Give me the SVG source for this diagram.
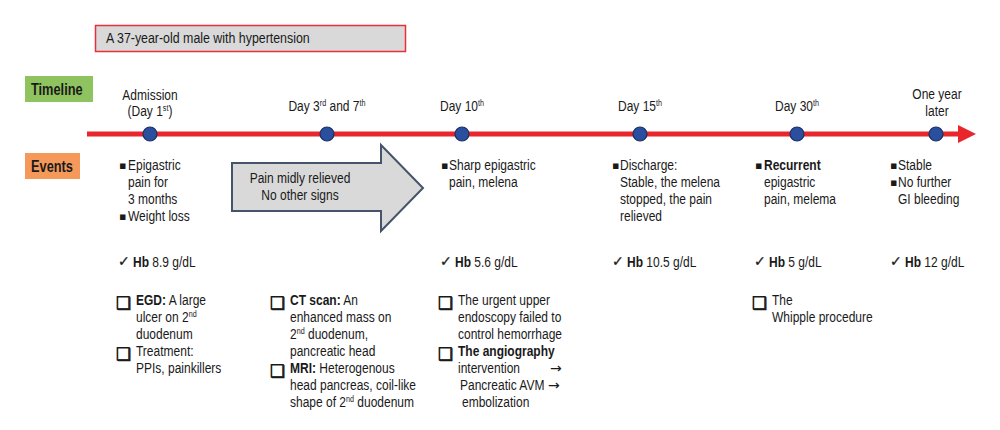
<svg xmlns="http://www.w3.org/2000/svg" width="1000" height="430" viewBox="0 0 1000 430">
<style>
text{font-family:"Liberation Sans",Arimo,sans-serif;font-size:15px;fill:#1a1a1a;transform-box:fill-box;transform-origin:0 50%;transform:scaleX(0.8)}
.b{font-weight:bold}
.mid{text-anchor:middle;transform-origin:50% 50%}
.sym{font-family:"DejaVu Sans",sans-serif;transform:none}
.bul{font-size:11px}
.chk{font-size:14px;stroke:#1a1a1a;stroke-width:0.3}
.box{font-size:17px;stroke:#1a1a1a;stroke-width:0.7}
.dot{fill:#2a4f9e;stroke:#1b2f63;stroke-width:1.2}
</style>
<rect width="1000" height="430" fill="#fff"/>
<g id="title">
<rect x="95.5" y="25.5" width="310" height="26" fill="#d9d9d9" stroke="#e8303a" stroke-width="1.5"/>
<text x="106" y="43.5" style="font-size:15.5px">A 37-year-old male with hypertension</text>
</g>
<g id="timeline-label">
<rect x="25" y="76" width="68" height="26" fill="#8fc35f"/>
<text x="31" y="95" class="b" style="font-size:16px">Timeline</text>
</g>
<g id="events-label">
<rect x="25" y="153" width="55" height="26" fill="#f4995a"/>
<text x="31" y="172" class="b" style="font-size:16px">Events</text>
</g>
<g id="connectors">
<line x1="87" y1="134" x2="960" y2="134" stroke="#e8262b" stroke-width="5"/>
<polygon points="958,125 976,134 958,143" fill="#e8262b"/>
</g>
<g id="t1"><circle cx="150" cy="134" r="7" class="dot"/>
<text x="150" y="100" class="mid">Admission</text>
<text x="150" y="116" class="mid">(Day 1<tspan dy="-5" font-size="9">st</tspan><tspan dy="5">)</tspan></text></g>
<g id="t2"><circle cx="327" cy="134" r="7" class="dot"/>
<text x="327" y="111" class="mid">Day 3<tspan dy="-5" font-size="9">rd</tspan><tspan dy="5"> and 7</tspan><tspan dy="-5" font-size="9">th</tspan></text></g>
<g id="t3"><circle cx="462" cy="134" r="7" class="dot"/>
<text x="462" y="111" class="mid">Day 10<tspan dy="-5" font-size="9">th</tspan></text></g>
<g id="t4"><circle cx="640" cy="134" r="7" class="dot"/>
<text x="640" y="111" class="mid">Day 15<tspan dy="-5" font-size="9">th</tspan></text></g>
<g id="t5"><circle cx="797" cy="134" r="7" class="dot"/>
<text x="797" y="111" class="mid">Day 30<tspan dy="-5" font-size="9">th</tspan></text></g>
<g id="t6"><circle cx="936" cy="134" r="7" class="dot"/>
<text x="937" y="99" class="mid">One year</text>
<text x="937" y="116" class="mid">later</text></g>

<g id="arrow-box">
<polygon points="232,163 381,163 381,145 423,188 381,231 381,211 232,211" fill="#d9d9d9" stroke="#44546a" stroke-width="2"/>
<text x="300" y="183" class="mid">Pain midly relieved</text>
<text x="300" y="200" class="mid">No other signs</text>
</g>

<g id="col1">
<text x="119" y="169" class="sym bul">▪</text>
<text x="128" y="170">Epigastric</text>
<text x="128" y="187">pain for</text>
<text x="128" y="204">3 months</text>
<text x="119" y="220" class="sym bul">▪</text>
<text x="128" y="221">Weight loss</text>
<text x="118" y="266" class="sym chk">✓</text>
<text x="133" y="267"><tspan class="b">Hb</tspan> 8.9 g/dL</text>
<text x="116" y="309" class="sym box">❑</text>
<text x="136" y="305"><tspan class="b">EGD:</tspan> A large</text>
<text x="136" y="322">ulcer on 2<tspan dy="-5" font-size="9">nd</tspan></text>
<text x="136" y="339">duodenum</text>
<text x="116" y="360" class="sym box">❑</text>
<text x="136" y="356">Treatment:</text>
<text x="136" y="373">PPIs, painkillers</text>
</g>

<g id="col2">
<text x="270" y="309" class="sym box">❑</text>
<text x="290" y="305"><tspan class="b">CT scan:</tspan> An</text>
<text x="290" y="322">enhanced mass on</text>
<text x="290" y="339">2<tspan dy="-5" font-size="9">nd</tspan><tspan dy="5"> duodenum,</tspan></text>
<text x="290" y="356">pancreatic head</text>
<text x="270" y="377" class="sym box">❑</text>
<text x="290" y="373"><tspan class="b">MRI:</tspan> Heterogenous</text>
<text x="290" y="390">head pancreas, coil-like</text>
<text x="290" y="407">shape of 2<tspan dy="-5" font-size="9">nd</tspan><tspan dy="5"> duodenum</tspan></text>
</g>

<g id="col3">
<text x="441" y="169" class="sym bul">▪</text>
<text x="449" y="170">Sharp epigastric</text>
<text x="449" y="187">pain, melena</text>
<text x="440" y="266" class="sym chk">✓</text>
<text x="455" y="267"><tspan class="b">Hb</tspan> 5.6 g/dL</text>
<text x="438" y="309" class="sym box">❑</text>
<text x="458" y="305">The urgent upper</text>
<text x="458" y="322">endoscopy failed to</text>
<text x="458" y="339">control hemorrhage</text>
<text x="438" y="360" class="sym box">❑</text>
<text x="458" y="356" class="b">The angiography</text>
<text x="458" y="373">intervention</text>
<text x="550" y="373" class="sym" style="font-size:14px">→</text>
<text x="460" y="390">Pancreatic AVM</text>
<text x="548" y="390" class="sym" style="font-size:14px">→</text>
<text x="462" y="407">embolization</text>
</g>

<g id="col4">
<text x="612" y="169" class="sym bul">▪</text>
<text x="620" y="170">Discharge:</text>
<text x="620" y="187">Stable, the melena</text>
<text x="620" y="204">stopped, the pain</text>
<text x="620" y="221">relieved</text>
<text x="612" y="266" class="sym chk">✓</text>
<text x="627" y="267"><tspan class="b">Hb</tspan> 10.5 g/dL</text>
</g>

<g id="col5">
<text x="755" y="169" class="sym bul">▪</text>
<text x="764" y="170" class="b">Recurrent</text>
<text x="764" y="187">epigastric</text>
<text x="764" y="204">pain, melema</text>
<text x="754" y="266" class="sym chk">✓</text>
<text x="769" y="267"><tspan class="b">Hb</tspan> 5 g/dL</text>
<text x="752" y="309" class="sym box">❑</text>
<text x="772" y="305">The</text>
<text x="772" y="322">Whipple procedure</text>
</g>

<g id="col6">
<text x="890" y="169" class="sym bul">▪</text>
<text x="898" y="170">Stable</text>
<text x="890" y="186" class="sym bul">▪</text>
<text x="898" y="187">No further</text>
<text x="898" y="204">GI bleeding</text>
<text x="890" y="266" class="sym chk">✓</text>
<text x="905" y="267"><tspan class="b">Hb</tspan> 12 g/dL</text>
</g>
</svg>
